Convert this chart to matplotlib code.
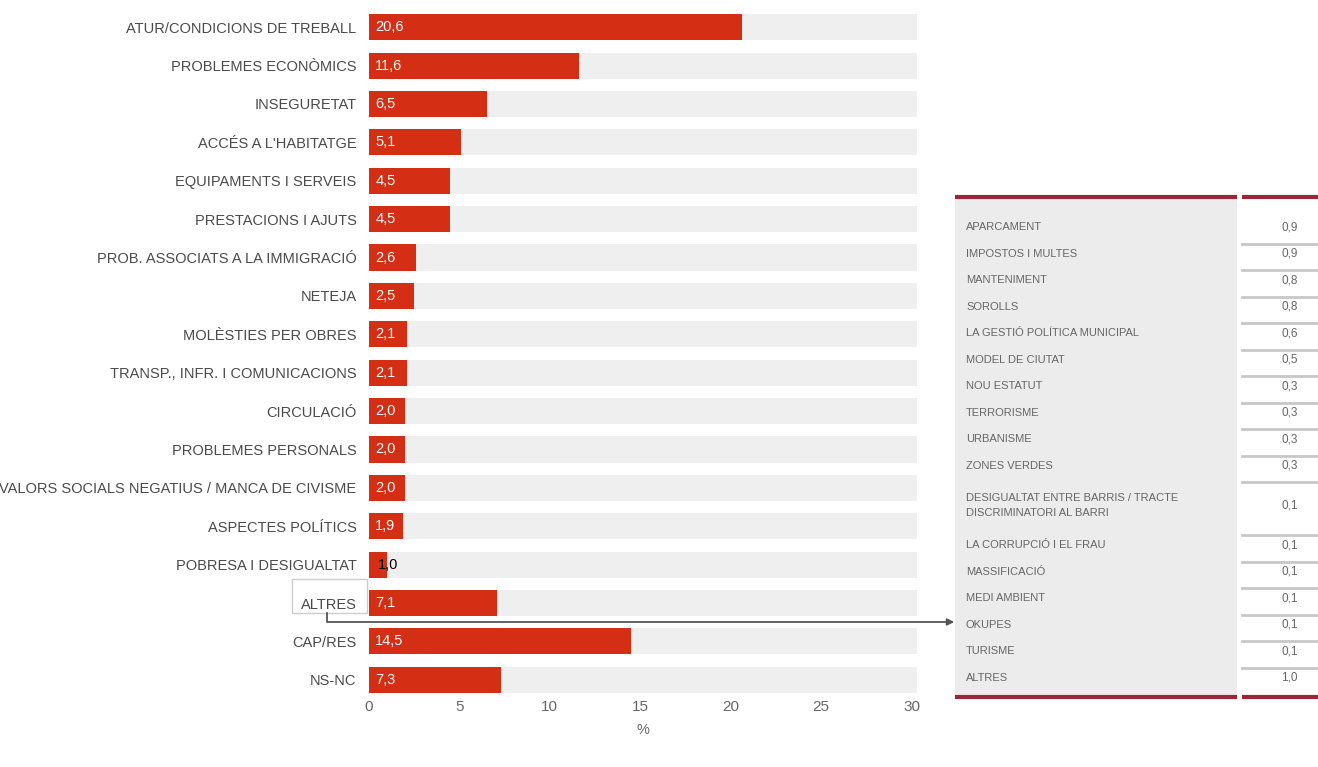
import matplotlib.pyplot as plt
from matplotlib.patches import Rectangle

plt.rcParams['font.family'] = ['Liberation Sans', 'DejaVu Sans']

## main bar chart data
categories = ["ATUR/CONDICIONS DE TREBALL", "PROBLEMES ECONÒMICS", "INSEGURETAT",
              "ACCÉS A L'HABITATGE", "EQUIPAMENTS I SERVEIS", "PRESTACIONS I AJUTS",
              "PROB. ASSOCIATS A LA IMMIGRACIÓ", "NETEJA", "MOLÈSTIES PER OBRES",
              "TRANSP., INFR. I COMUNICACIONS", "CIRCULACIÓ", "PROBLEMES PERSONALS",
              "VALORS SOCIALS NEGATIUS / MANCA DE CIVISME", "ASPECTES POLÍTICS",
              "POBRESA I DESIGUALTAT", "ALTRES", "CAP/RES", "NS-NC"]
values = [20.6, 11.6, 6.5, 5.1, 4.5, 4.5, 2.6, 2.5, 2.1, 2.1, 2.0, 2.0, 2.0, 1.9,
          1.0, 7.1, 14.5, 7.3]
xticks = [0, 5, 10, 15, 20, 25, 30]

## breakdown of ALTRES
other_labels = ["APARCAMENT", "IMPOSTOS I MULTES", "MANTENIMENT", "SOROLLS",
                "LA GESTIÓ POLÍTICA MUNICIPAL", "MODEL DE CIUTAT", "NOU ESTATUT",
                "TERRORISME", "URBANISME", "ZONES VERDES",
                "DESIGUALTAT ENTRE BARRIS / TRACTE\nDISCRIMINATORI AL BARRI",
                "LA CORRUPCIÓ I EL FRAU", "MASSIFICACIÓ", "MEDI AMBIENT", "OKUPES",
                "TURISME", "ALTRES"]
other_values = [0.9, 0.9, 0.8, 0.8, 0.6, 0.5, 0.3, 0.3, 0.3, 0.3, 0.1, 0.1, 0.1,
                0.1, 0.1, 0.1, 1.0]

def fmt(v):
    return ('%.1f' % v).replace('.', ',')

W, H = 1318, 767
RED = '#d42f14'
GREY_BG = '#efefef'
fig = plt.figure(figsize=(W / 100, H / 100), dpi=100)

ax = fig.add_axes([369 / W, 1 - 699 / H, (917 - 369) / W, (699 - 8) / H])
xmax = 30.3
y = list(range(len(categories)))
ax.barh(y, [xmax] * len(y), height=0.68, color=GREY_BG, zorder=1)
ax.barh(y, values, height=0.68, color=RED, zorder=2)
for i, v in enumerate(values):
    if v >= 1.5:
        ax.text(0.35, i, fmt(v), color='white', va='center', ha='left', fontsize=10.5, zorder=3)
    else:
        ax.text(0.5, i, fmt(v), color='black', va='center', ha='left', fontsize=10.5, zorder=3)
ax.set_xlim(0, xmax)
ax.set_ylim(len(y) - 0.5, -0.5)
ax.set_yticks(y)
ax.set_yticklabels(categories, fontsize=10.5, color='#4a4a4a')
ax.set_xticks(xticks)
ax.set_xticklabels([str(t) for t in xticks], fontsize=11, color='#666666')
ax.tick_params(axis='x', length=0, pad=1)
ax.tick_params(axis='y', length=0, pad=9)
ax.set_xlabel('%', fontsize=10.5, color='#666666', labelpad=6)
for s in ax.spines.values():
    s.set_visible(False)

## overlay in pixel coords for the table and arrow
ov = fig.add_axes([0, 0, 1, 1], zorder=5)
ov.set_xlim(0, W)
ov.set_ylim(H, 0)
ov.axis('off')
ov.patch.set_alpha(0)

# ALTRES box
ov.add_patch(Rectangle((292, 579), 75, 34, facecolor='none', edgecolor='#cccccc', lw=1))
ov.plot([327, 327, 950], [613, 622, 622], color='#555555', lw=1.3)
ov.annotate('', xy=(957, 622), xytext=(945, 622),
            arrowprops=dict(arrowstyle='-|>', color='#555555', lw=1.3, mutation_scale=10))

# table
top, bot = 197, 697
ov.add_patch(Rectangle((955, top), 282, bot - top, facecolor='#ececec', edgecolor='none'))
DARK = '#9b2638'
ov.plot([955, 1237], [top, top], color=DARK, lw=3, solid_capstyle='butt')
ov.plot([1242, 1318], [top, top], color=DARK, lw=3, solid_capstyle='butt')
ov.plot([955, 1237], [bot, bot], color=DARK, lw=3, solid_capstyle='butt')
ov.plot([1242, 1318], [bot, bot], color=DARK, lw=3, solid_capstyle='butt')

pitch = 26.5
ypos = 214
for lab, v in zip(other_labels, other_values):
    h = pitch * (2 if '\n' in lab else 1)
    yc = ypos + h / 2
    ov.text(966, yc, lab, fontsize=8, color='#666666', va='center', ha='left',
            linespacing=1.6)
    ov.text(1298, yc, fmt(v), fontsize=8.5, color='#666666', va='center', ha='right')
    if lab != other_labels[-1]:
        ov.plot([1242, 1318], [ypos + h + 3, ypos + h + 3], color='#c8c8c8', lw=2)
    ypos += h

fig.savefig('out.png', dpi=100)
